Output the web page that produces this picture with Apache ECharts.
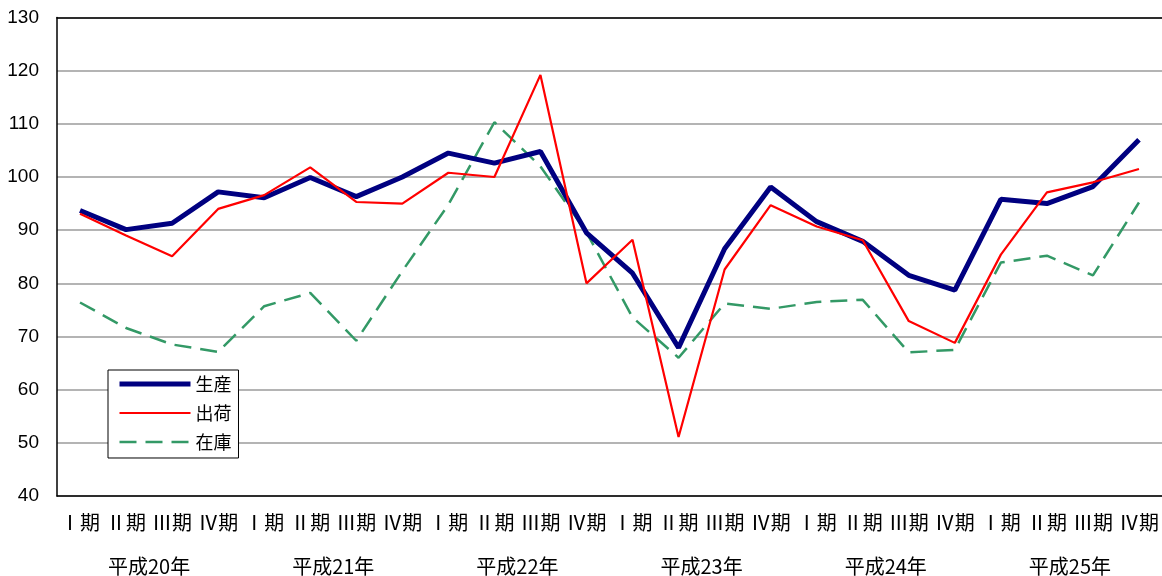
<!DOCTYPE html>
<html>
<head>
<meta charset="utf-8">
<script src="https://cdn.jsdelivr.net/npm/echarts@6/dist/echarts.min.js"></script>
<style>html,body{margin:0;padding:0;background:#fff}#c{width:1162px;height:576px}</style>
</head>
<body>
<div id="c"></div>
<script>
var quarters = ['Ⅰ期','Ⅱ期','Ⅲ期','Ⅳ期','Ⅰ期','Ⅱ期','Ⅲ期','Ⅳ期','Ⅰ期','Ⅱ期','Ⅲ期','Ⅳ期','Ⅰ期','Ⅱ期','Ⅲ期','Ⅳ期','Ⅰ期','Ⅱ期','Ⅲ期','Ⅳ期','Ⅰ期','Ⅱ期','Ⅲ期','Ⅳ期'];
var years = ['平成20年','平成21年','平成22年','平成23年','平成24年','平成25年'];
var production = [93.7,90.1,91.3,97.2,96.1,99.9,96.3,100.0,104.5,102.6,104.8,89.5,81.9,67.9,86.5,98.1,91.6,87.9,81.5,78.7,95.8,95.0,98.2,107.0];
var shipments = [93.1,89.0,85.1,94.0,96.6,101.8,95.3,95.0,100.8,100.0,119.2,80.0,88.2,51.1,82.6,94.7,90.7,88.1,72.9,68.8,85.4,97.1,99.0,101.5];
var inventory = [76.4,71.6,68.5,67.1,75.7,78.2,69.2,82.3,94.8,110.3,102.0,89.6,73.6,66.0,76.2,75.2,76.5,76.9,67.0,67.5,83.9,85.2,81.5,95.2];
var yTicks = {min:40, max:130, interval:10};

var chart = echarts.init(document.getElementById('c'));
chart.setOption({
  animation: false,
  backgroundColor: '#fff',
  grid: {left: 57, top: 17.5, width: 1108, height: 479.5},
  legend: {
    orient: 'vertical', left: 108, top: 370,
    borderColor: '#000', borderWidth: 1, backgroundColor: '#fff',
    padding: [5, 7, 7, 9], itemGap: 11, itemWidth: 71, itemHeight: 18,
    itemStyle: {opacity: 0},
    lineStyle: {width: 'inherit'},
    textStyle: {fontFamily: 'Noto Sans CJK JP', fontSize: 18, color: '#000'},
    data: ['生産','出荷','在庫']
  },
  xAxis: [
    {type: 'category', data: quarters, boundaryGap: true, position: 'bottom',
     axisLine: {lineStyle: {color: '#000', width: 1.5}}, axisTick: {show: false},
     axisLabel: {interval: 0, margin: 16, fontFamily: 'Noto Sans CJK JP', fontSize: 20, color: '#000'}},
    {type: 'category', data: years, boundaryGap: true, position: 'bottom', offset: 42,
     axisLine: {show: false}, axisTick: {show: false},
     axisLabel: {interval: 0, margin: 18, fontFamily: 'Noto Sans CJK JP', fontSize: 20, color: '#000'}},
    {type: 'category', data: quarters, position: 'top', z: 10,
     axisLine: {lineStyle: {color: '#000', width: 1.5}}, axisTick: {show: false}, axisLabel: {show: false}}
  ],
  yAxis: {
    type: 'value', min: yTicks.min, max: yTicks.max, interval: yTicks.interval,
    axisLine: {show: true, lineStyle: {color: '#000', width: 1.5}}, axisTick: {show: false},
    axisLabel: {margin: 18, fontFamily: 'Liberation Sans', fontSize: 19, color: '#000'},
    splitLine: {lineStyle: {color: '#b4b4b4', width: 2}}
  },
  series: [
    {name: '生産', type: 'line', data: production, xAxisIndex: 0, symbol: 'none', z: 3,
     lineStyle: {color: '#000080', width: 5}, itemStyle: {color: '#000080'}},
    {name: '出荷', type: 'line', data: shipments, xAxisIndex: 0, symbol: 'none', z: 4,
     lineStyle: {color: '#ff0000', width: 2.2}, itemStyle: {color: '#ff0000'}},
    {name: '在庫', type: 'line', data: inventory, xAxisIndex: 0, symbol: 'none', z: 2,
     lineStyle: {color: '#339966', width: 2.5, type: [17, 9]}, itemStyle: {color: '#339966'}}
  ]
});
</script>
</body>
</html>
